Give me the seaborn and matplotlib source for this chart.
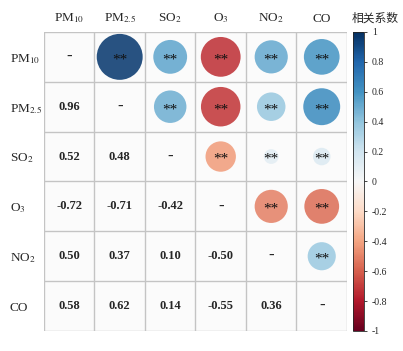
import numpy as np
import pandas as pd
import seaborn as sns
import matplotlib
import matplotlib.pyplot as plt

names = ['PM$_{10}$', 'PM$_{2.5}$', 'SO$_2$', 'O$_3$', 'NO$_2$', 'CO']
# lower triangle correlation values, row by row
r_pm25 = [0.96]
r_so2 = [0.52, 0.48]
r_o3 = [-0.72, -0.71, -0.42]
r_no2 = [0.50, 0.37, 0.10, -0.50]
r_co = [0.58, 0.62, 0.14, -0.55, 0.36]
lower = [[], r_pm25, r_so2, r_o3, r_no2, r_co]

n = len(names)
corr = np.eye(n)
for i, row in enumerate(lower):
    for j, v in enumerate(row):
        corr[i, j] = v
        corr[j, i] = v

recs = []
for i in range(n):
    for j in range(i + 1, n):
        recs.append({'x': j, 'y': i, 'r': corr[i, j], 'a': abs(corr[i, j])})
df = pd.DataFrame(recs)

sns.set_style('white')
plt.rcParams['font.family'] = ['Liberation Serif', 'Noto Sans CJK SC']
plt.rcParams['mathtext.fontset'] = 'stix'

fig = plt.figure(figsize=(4.03, 3.51), dpi=100)
fig.patch.set_facecolor('white')
ax = fig.add_axes([0.109, 0.057, 0.752, 0.852])
ax.set_facecolor('#fbfbfb')

sns.scatterplot(data=df, x='x', y='y', hue='r', palette='RdBu', hue_norm=(-1, 1),
                size='a', sizes=(0, 1140), size_norm=(0, 1), legend=False,
                edgecolor='none', alpha=0.88, ax=ax)

for _, row in df.iterrows():
    ax.text(row['x'], row['y'] + 0.06, '**', ha='center', va='center', fontsize=11,
            color='#111111')
for i in range(n):
    ax.text(i, i, '-', ha='center', va='center', fontsize=12, fontweight='bold')
    for j in range(i):
        ax.text(j, i, f'{corr[i, j]:.2f}', ha='center', va='center', fontsize=9,
                fontweight='bold')

for k in range(n + 1):
    ax.axvline(k - 0.5, color='#c4c4c4', lw=1)
    ax.axhline(k - 0.5, color='#c4c4c4', lw=1)

ax.set_xlim(-0.5, n - 0.5)
ax.set_ylim(n - 0.5, -0.5)
ax.set_xticks(range(n))
ax.set_yticks(range(n))
ax.set_xticklabels(names, fontsize=9.5)
ax.set_yticklabels(names, fontsize=9.5)
ax.xaxis.tick_top()
ax.tick_params(axis='x', length=0, pad=5)
ax.tick_params(axis='y', length=0, pad=24.5)
for lab in ax.get_yticklabels():
    lab.set_ha('left')
ax.set_xlabel('')
ax.set_ylabel('')
for s in ax.spines.values():
    s.set_visible(False)

cax = fig.add_axes([0.876, 0.057, 0.028, 0.852])
sm = matplotlib.cm.ScalarMappable(norm=matplotlib.colors.Normalize(-1, 1), cmap='RdBu')
cb = fig.colorbar(sm, cax=cax, ticks=np.arange(-1, 1.01, 0.2))
cb.ax.set_yticklabels(['-1', '-0.8', '-0.6', '-0.4', '-0.2', '0', '0.2', '0.4', '0.6', '0.8', '1'])
cb.ax.tick_params(labelsize=7, length=2, width=0.6)
cb.outline.set_linewidth(0.6)
cax.text(-0.1, 1.025, '相关系数', transform=cax.transAxes, ha='left', va='bottom',
         fontsize=8.5)

plt.savefig('out.png', dpi=100)
